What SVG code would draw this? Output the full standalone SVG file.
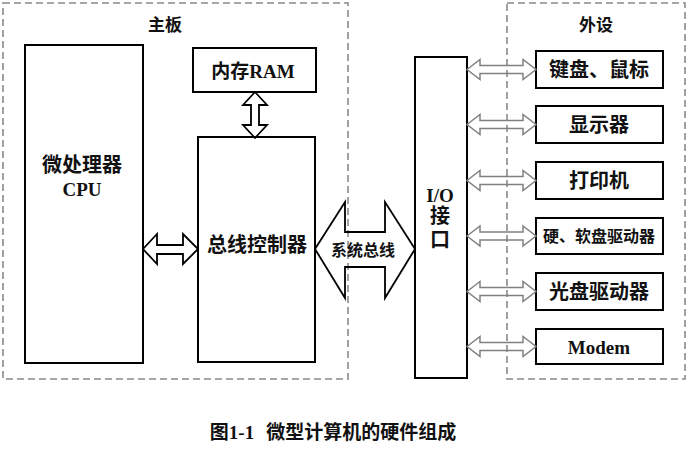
<svg xmlns="http://www.w3.org/2000/svg" width="688" height="451" viewBox="0 0 688 451">
<style>
.dash{fill:none;stroke:#8a8a8a;stroke-width:1.6;stroke-dasharray:7 4}
.box{fill:#fff;stroke:#000;stroke-width:2}
.t{font-family:"Liberation Serif","Noto Sans CJK SC",serif;font-weight:bold;fill:#111;text-anchor:middle;dominant-baseline:central}
.big{fill:none;stroke:#000;stroke-width:1.8;stroke-linejoin:miter}
.small{fill:none;stroke:#808080;stroke-width:1.5}
</style>
<rect width="688" height="451" fill="#fff"/>
<g id="mainboard">
<rect class="dash" x="3" y="3" width="345" height="376"/>
<text class="t" x="165" y="25" font-size="17">主板</text>
</g>
<g id="peripherals">
<rect class="dash" x="507" y="3" width="178" height="376"/>
<text class="t" x="596" y="25" font-size="17">外设</text>
</g>
<g id="cpu">
<rect class="box" x="25" y="45" width="118" height="318"/>
<text class="t" x="82" y="165" font-size="20">微处理器</text>
<text class="t" x="82" y="189" font-size="19">CPU</text>
</g>
<g id="ram">
<rect class="box" x="193" y="48" width="123" height="44"/>
<text class="t" x="253" y="71" font-size="19">内存RAM</text>
</g>
<g id="busctrl">
<rect class="box" x="198" y="137" width="117" height="225"/>
<text class="t" x="257" y="245" font-size="20">总线控制器</text>
</g>
<g id="io">
<rect class="box" x="415" y="57" width="52" height="321"/>
<text class="t" x="440" y="195" font-size="19">I/O</text>
<text class="t" x="440" y="216" font-size="20">接</text>
<text class="t" x="440" y="240" font-size="20">口</text>
</g>
<g id="keyboard">
<rect class="box" x="536" y="51" width="127" height="37"/>
<text class="t" x="599" y="70" font-size="20">键盘、鼠标</text>
</g>
<g id="display">
<rect class="box" x="536" y="106" width="127" height="37"/>
<text class="t" x="599" y="125" font-size="20">显示器</text>
</g>
<g id="printer">
<rect class="box" x="536" y="162" width="127" height="37"/>
<text class="t" x="599" y="181" font-size="20">打印机</text>
</g>
<g id="disk">
<rect class="box" x="536" y="218" width="127" height="36"/>
<text class="t" x="599" y="236" font-size="16">硬、软盘驱动器</text>
</g>
<g id="cdrom">
<rect class="box" x="536" y="273" width="127" height="37"/>
<text class="t" x="599" y="292" font-size="20">光盘驱动器</text>
</g>
<g id="modem">
<rect class="box" x="536" y="329" width="127" height="35"/>
<text class="t" x="599" y="347" font-size="19">Modem</text>
</g>
<g id="connectors">
<path class="big" d="M143,249 L157,234 L157,245 L183,245 L183,234 L198,249 L183,264 L183,254 L157,254 L157,264 Z"/>
<path class="big" d="M255,92 L267,105 L259,105 L259,125 L267,125 L255,138 L243,125 L251,125 L251,105 L243,105 Z"/>
<path class="big" d="M315,249 L345,202 L345,232 L385,232 L385,202 L415,249 L385,298 L385,267 L345,267 L345,298 Z"/>
<text class="t" x="363" y="250" font-size="16">系统总线</text>
<path class="small" d="M467,69.5 l13,-10 v6 h43 v-6 l13,10 l-13,10 v-6 h-43 v6 Z"/>
<path class="small" d="M467,124.5 l13,-10 v6 h43 v-6 l13,10 l-13,10 v-6 h-43 v6 Z"/>
<path class="small" d="M467,180.5 l13,-10 v6 h43 v-6 l13,10 l-13,10 v-6 h-43 v6 Z"/>
<path class="small" d="M467,236 l13,-10 v6 h43 v-6 l13,10 l-13,10 v-6 h-43 v6 Z"/>
<path class="small" d="M467,291.5 l13,-10 v6 h43 v-6 l13,10 l-13,10 v-6 h-43 v6 Z"/>
<path class="small" d="M467,346.5 l13,-10 v6 h43 v-6 l13,10 l-13,10 v-6 h-43 v6 Z"/>
</g>
<g id="caption">
<text class="t" x="333" y="432" font-size="19">图1-1<tspan dx="12">微型计算机的硬件组成</tspan></text>
</g>
</svg>
